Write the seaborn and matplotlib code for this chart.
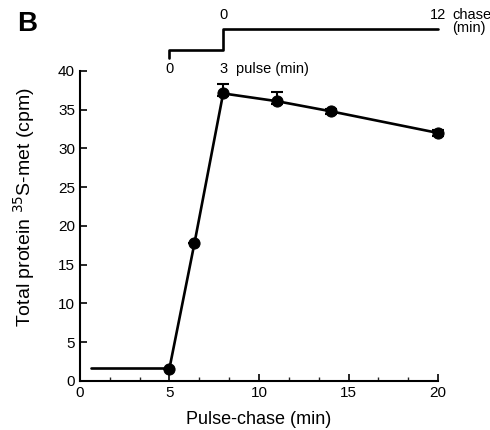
import numpy as np
import pandas as pd
import matplotlib
matplotlib.use('Agg')
import matplotlib.pyplot as plt
import seaborn as sns

# values
time_min = [5, 6.4, 8, 11, 14, 20]
protein_cpm = [1.6, 17.8, 37.1, 36.1, 34.8, 32.0]
err_low = [0.0, 0.0, 0.3, 0.3, 0.3, 0.4]
err_high = [0.0, 0.0, 1.2, 1.2, 0.3, 0.4]
baseline_x = [0.6, 5]
baseline_y = [1.7, 1.7]

pulse_ticks = [0, 3]
chase_ticks = [0, 12]
pulse_start = 5   # pulse-chase time where the pulse begins

sns.set_style('ticks')
plt.rcParams['font.family'] = ['Liberation Sans', 'DejaVu Sans']
plt.rcParams['text.color'] = 'black'
plt.rcParams['axes.labelcolor'] = 'black'

fig = plt.figure(figsize=(4.9, 4.3), dpi=100)
ax = fig.add_axes([0.163, 0.114, 0.731, 0.721])

df = pd.DataFrame({'t': time_min, 'cpm': protein_cpm})

# flat baseline then the measured curve
ax.plot(baseline_x, baseline_y, color='black', lw=1.9)
sns.lineplot(data=df, x='t', y='cpm', color='black', lw=1.9, ax=ax,
             marker='o', markersize=8, markeredgecolor='black', clip_on=False)
ax.errorbar(df['t'], df['cpm'], yerr=[err_low, err_high], fmt='none',
            ecolor='black', elinewidth=1.5, capsize=4, capthick=1.5,
            clip_on=False)

ax.set_xlim(0, 20)
ax.set_ylim(0, 40)
ax.set_xticks([0, 5, 10, 15, 20])
ax.set_xticks(np.arange(0, 20.01, 5 / 3), minor=True)
ax.set_yticks(range(0, 41, 5))
ax.tick_params(direction='in', labelsize=11, width=1.2, length=5, colors='black')
ax.tick_params(which='minor', direction='in', length=3, width=1.0)
sns.despine(ax=ax)
for s in ['left', 'bottom']:
    ax.spines[s].set_linewidth(1.5)
    ax.spines[s].set_color('black')

ax.set_xlabel('Pulse-chase (min)', fontsize=13, labelpad=8)
ax.set_ylabel('Total protein $^{35}$S-met (cpm)', fontsize=14)
ax.yaxis.set_label_coords(-0.12, 0.56)

# pulse / chase schematic above the axes
p0 = pulse_start + pulse_ticks[0]
p1 = pulse_start + pulse_ticks[1]
c1 = p1 + chase_ticks[1]
ax.plot([p0, p0, p1, p1, c1], [41.7, 42.7, 42.7, 45.4, 45.4],
        color='black', lw=1.9, clip_on=False)
for v, x in zip(pulse_ticks, [p0, p1]):
    ax.text(x, 40.3, str(v), ha='center', va='center', fontsize=10.5)
ax.text(p1 + 0.7, 40.3, 'pulse (min)', ha='left', va='center', fontsize=10.5)
for v, x in zip(chase_ticks, [p1, c1]):
    ax.text(x, 47.2, str(v), ha='center', va='center', fontsize=10.5)
ax.text(c1 + 0.8, 46.4, 'chase\n(min)', ha='left', va='center', fontsize=10.5,
        linespacing=0.9)

fig.text(0.035, 0.945, 'B', fontsize=20, fontweight='bold', va='center')

fig.savefig('out.png', dpi=100)
